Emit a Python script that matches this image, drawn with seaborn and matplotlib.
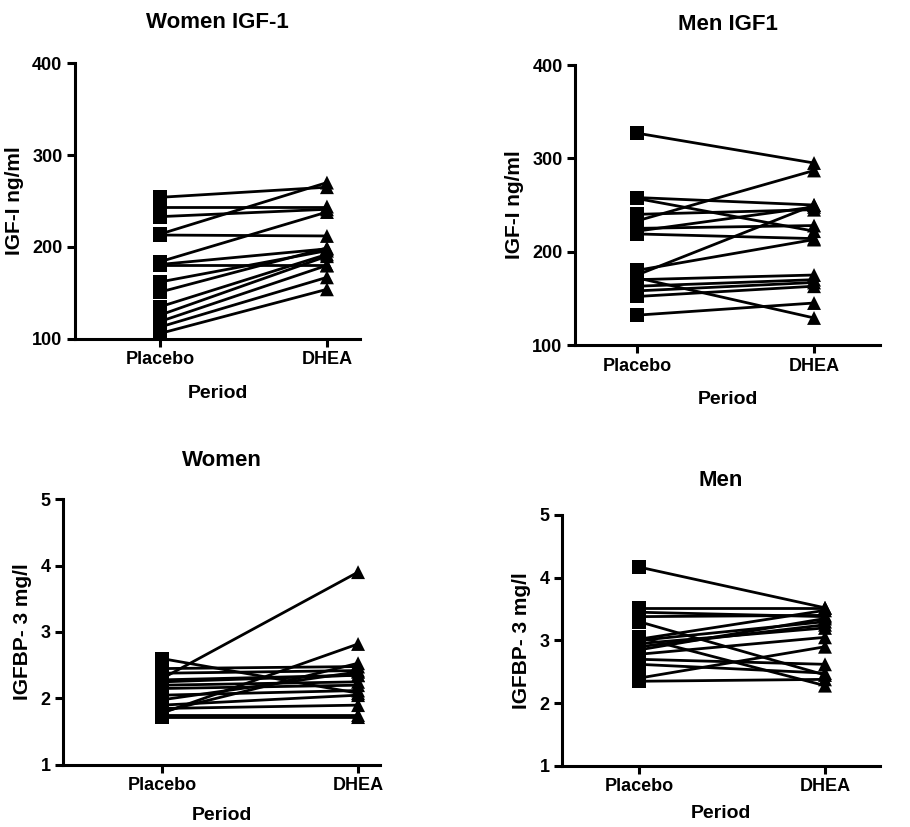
import matplotlib
matplotlib.use("Agg")
import matplotlib.pyplot as plt
import seaborn as sns
import pandas as pd

# ---- data ----
periods = ["Placebo", "DHEA"]

women_igf1_placebo = [254, 244, 233, 214, 213, 184, 181, 180, 162, 151, 135, 126, 119, 113, 106]
women_igf1_dhea    = [265, 244, 241, 270, 212, 238, 198, 180, 196, 199, 192, 190, 180, 167, 154]

men_igf1_placebo = [327, 258, 257, 240, 233, 225, 222, 219, 180, 175, 172, 170, 163, 158, 152, 132]
men_igf1_dhea    = [295, 250, 222, 245, 287, 228, 248, 214, 213, 250, 129, 175, 170, 167, 163, 145]

women_bp3_placebo = [2.60, 2.30, 1.78, 1.80, 2.45, 2.38, 2.28, 2.20, 2.15, 2.05, 1.98, 1.90, 1.85, 1.75, 1.72, 2.25]
women_bp3_dhea    = [2.08, 3.90, 2.82, 2.53, 2.48, 2.42, 2.35, 2.25, 2.20, 2.12, 2.40, 2.05, 1.90, 1.75, 1.72, 2.35]

men_bp3_placebo = [4.17, 3.52, 3.45, 3.38, 3.30, 3.05, 3.02, 3.00, 2.95, 2.85, 2.78, 2.70, 2.62, 2.40, 2.35, 2.90]
men_bp3_dhea    = [3.52, 3.52, 3.38, 3.40, 2.45, 2.28, 3.48, 3.30, 3.20, 3.35, 3.05, 2.62, 2.48, 2.90, 2.38, 3.25]

titles = ["Women IGF-1", "Men IGF1", "Women", "Men"]
ylabels = ["IGF-I ng/ml", "IGF-I ng/ml", "IGFBP- 3 mg/l", "IGFBP- 3 mg/l"]
xlabel = "Period"
igf_ticks = [100, 200, 300, 400]
bp3_ticks = [1, 2, 3, 4, 5]

sns.set_theme(style="ticks")
plt.rcParams["font.family"] = ["Liberation Sans", "DejaVu Sans"]
plt.rcParams["font.weight"] = "bold"
plt.rcParams["text.color"] = "black"
plt.rcParams["axes.labelcolor"] = "black"
plt.rcParams["xtick.color"] = "black"
plt.rcParams["ytick.color"] = "black"

fig = plt.figure(figsize=(9.1, 8.27), dpi=100)

panels = [
    (women_igf1_placebo, women_igf1_dhea, [0.0824, 0.5901, 0.3132, 0.3337], (-0.509, 1.198), (100, 400), igf_ticks, 25, 12),
    (men_igf1_placebo, men_igf1_dhea, [0.6319, 0.5828, 0.3352, 0.3386], (-0.35, 1.373), (100, 400), igf_ticks, 25, 12),
    (women_bp3_placebo, women_bp3_dhea, [0.0692, 0.0750, 0.3484, 0.3216], (-0.505, 1.112), (1, 5), bp3_ticks, 24, 9),
    (men_bp3_placebo, men_bp3_dhea, [0.6176, 0.0738, 0.3495, 0.3035], (-0.414, 1.296), (1, 5), bp3_ticks, 21, 7),
]

for i, (pl, dh, pos, xl, yl, yt, tpad, lpad) in enumerate(panels):
    ax = fig.add_axes(pos)
    rows = []
    for s, (a, b) in enumerate(zip(pl, dh)):
        rows.append({"subject": s, "x": 0, "period": periods[0], "value": a})
        rows.append({"subject": s, "x": 1, "period": periods[1], "value": b})
    df = pd.DataFrame(rows)
    sns.lineplot(data=df, x="x", y="value", units="subject", estimator=None,
                 color="black", linewidth=2.0, ax=ax, legend=False)
    sns.scatterplot(data=df, x="x", y="value", style="period",
                    markers={"Placebo": "s", "DHEA": "^"}, color="black",
                    s=100, edgecolor="black", linewidth=0, ax=ax, legend=False,
                    zorder=3, clip_on=False)
    ax.set_xlim(*xl)
    ax.set_ylim(*yl)
    ax.set_xticks([0, 1])
    ax.set_xticklabels(periods, fontsize=13, fontweight="bold")
    ax.set_yticks(yt)
    ax.set_yticklabels([str(t) for t in yt], fontsize=13, fontweight="bold")
    ax.set_xlabel(xlabel, fontsize=14, fontweight="bold", labelpad=lpad)
    ax.set_ylabel(ylabels[i], fontsize=15, fontweight="bold", labelpad=6)
    ax.set_title(titles[i], fontsize=16, fontweight="bold", pad=tpad)
    for side in ["top", "right"]:
        ax.spines[side].set_visible(False)
    for side in ["left", "bottom"]:
        ax.spines[side].set_linewidth(2.2)
        ax.spines[side].set_color("black")
    ax.tick_params(axis="both", direction="out", length=6, width=2.2, color="black",
                   labelcolor="black", pad=3)
    ax.set_facecolor("white")

fig.savefig("out.png", dpi=100, facecolor="white")
